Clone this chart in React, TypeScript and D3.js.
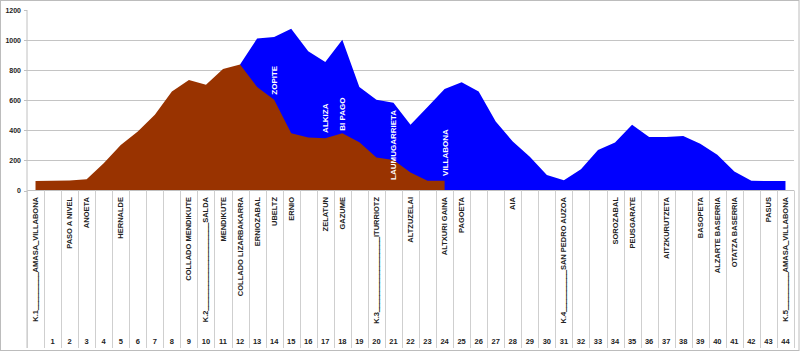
import React from "react";
import * as d3 from "d3";

// stop names along the route (category axis, upper level)
const stops = [
  "AMASA_VILLABONA", "", "PASO A NIVEL", "ANOETA", "", "HERNALDE", "", "", "",
  "COLLADO MENDIKUTE", "SALDA", "MENDIKUTE", "COLLADO LIZARBAKARRA", "ERNIOZABAL",
  "UBELTZ", "ERNIO", "", "ZELATUN", "GAZUME", "", "ITURRIOTZ", "", "ALTZUZELAI", "",
  "ALTXURI GAINA", "PAGOETA", "", "", "AIA", "", "", "SAN PEDRO AUZOA", "", "",
  "SOROZABAL", "PEUSGARATE", "", "AITZKURUTZETA", "", "BASOPETA", "ALZARTE BASERRIA",
  "OTATZA BASERRIA", "", "PASUS", "AMASA_VILLABONA",
];

// stage codes and where they sit
const stageCodes = ["K.1", "K.2", "K.3", "K.4", "K.5"];
const stageStops = [0, 10, 20, 31, 44];

// lower level of the category axis
const stopNumbers = [
  "", "1", "2", "3", "4", "5", "6", "7", "8", "9", "10", "11", "12", "13", "14", "15",
  "16", "17", "18", "19", "20", "21", "22", "23", "24", "25", "26", "27", "28", "29",
  "30", "31", "32", "33", "34", "35", "36", "37", "38", "39", "40", "41", "42", "43", "44",
];

// altitude (m) first part of the route
const firstLeg: (number | null)[] = [
  63, 65, 67, 75, 181, 303, 392, 503, 659, 735, 703, 808, 838, 688, 603, 381, 352,
  348, 381, 321, 220, 203, 120, 65, 65,
  null, null, null, null, null, null, null, null, null, null, null, null, null, null,
  null, null, null, null, null, null,
];

// altitude (m) second part of the route
const secondLeg: (number | null)[] = [
  null, null, null, null, null, null, null, null, null, null, null, null,
  838, 1010, 1021, 1075, 925, 855, 1003, 688, 603, 583, 437, 555, 675, 719, 659, 459,
  325, 225, 103, 68, 141, 270, 319, 437, 355, 355, 363, 310, 237, 126, 65, 63, 63,
];

const yTicks = [0, 200, 400, 600, 800, 1000, 1200];
const gridValues = [200, 400, 600, 800, 1000];

// names written inside the chart
const peakNames = ["ZOPITE", "ALKIZA", "BI PAGO", "LAUMUGARRIETA", "VILLABONA"];
const peakStops = [14, 17, 18, 21, 24];
const peakBase = [637, 383, 397, 70, 97];

const FONT = '"Liberation Sans", Arial, sans-serif';

// how many underscores fill the gap between code and name
function fillCount(code: string, name: string, target: number) {
  const ctx = document.createElement("canvas").getContext("2d");
  if (!ctx) return 6;
  ctx.font = "bold 7.5px 'Liberation Sans'";
  const w = ctx.measureText(code + name).width;
  const u = ctx.measureText("_").width;
  return Math.max(1, Math.round((target - w) / u));
}

// underscores are drawn a bit heavier so they read as a line
function pieces(s: string) {
  return s.split(/(_+)/).filter(p => p).map((p, j) =>
    p[0] === "_"
      ? <tspan key={j} stroke="#333" strokeWidth={0.5}>{p}</tspan>
      : <tspan key={j}>{p}</tspan>
  );
}

export default function App() {
  const width = 800, height = 352;
  const left = 27, right = 794, top = 10, bottom = 190.5;
  const labelTop = 197, sepBottom = 348;

  const x = d3.scaleBand<number>().domain(d3.range(stops.length)).range([left, right]).padding(0);
  const y = d3.scaleLinear().domain([0, 1200]).range([bottom, top]);
  const cx = (i: number) => (x(i) as number) + x.bandwidth() / 2;

  const area = d3.area<number | null>()
    .defined(d => d !== null)
    .x((_, i) => cx(i))
    .y0(y(0))
    .y1(d => y(d as number));

  return (
    <svg width={width} height={height}
      style={{ position: "absolute", left: 0, top: 0, fontFamily: FONT }}>
      <rect x={0.5} y={0.5} width={798.5} height={350} fill="#fff" stroke="#bcbcbc" />

      {gridValues.map(v => (
        <line key={v} x1={left} x2={right} y1={Math.round(y(v)) + 0.5} y2={Math.round(y(v)) + 0.5}
          stroke="#c4c4c4" />
      ))}

      <path d={area(secondLeg) || ""} fill="#0000ff" />
      <path d={area(firstLeg) || ""} fill="#993300" />

      {/* axes */}
      <line x1={left} x2={left} y1={top} y2={sepBottom} stroke="#c0c0c0" />
      <line x1={left} x2={right} y1={bottom} y2={bottom} stroke="#c0c0c0" />
      {yTicks.map(v => (
        <g key={v}>
          <line x1={left - 3} x2={left} y1={Math.round(y(v)) + 0.5} y2={Math.round(y(v)) + 0.5}
            stroke="#c0c0c0" />
          <text x={21} y={y(v) + 2.5} textAnchor="end" fontSize={7} fontWeight="bold" fill="#222">
            {v}
          </text>
        </g>
      ))}

      {/* category separators */}
      {d3.range(stops.length + 1).map(i => {
        const xx = Math.round(left + i * x.bandwidth()) + 0.5;
        return <line key={i} x1={xx} x2={xx} y1={bottom} y2={sepBottom} stroke="#cfcfcf" />;
      })}

      {stops.map((s, i) => {
        if (!s) return null;
        const k = stageStops.indexOf(i);
        const full = k >= 0
          ? stageCodes[k] + "_".repeat(fillCount(stageCodes[k], s, 125)) + s
          : s;
        return (
          <text key={i} transform={`translate(${cx(i) + 2.5},${labelTop}) rotate(-90)`}
            textAnchor="end" fontSize={7.5} fontWeight="bold" fill="#222">
            {pieces(full)}
          </text>
        );
      })}

      {stopNumbers.map((s, i) => (
        <text key={i} x={cx(i)} y={344} textAnchor="middle" fontSize={7.5} fontWeight="bold"
          fill="#222">
          {s}
        </text>
      ))}

      {peakNames.map((s, k) => (
        <text key={s} transform={`translate(${cx(peakStops[k]) + 3},${y(peakBase[k])}) rotate(-90)`}
          textAnchor="start" fontSize={8} fontWeight="bold" fill="#fff">
          {s}
        </text>
      ))}
    </svg>
  );
}
